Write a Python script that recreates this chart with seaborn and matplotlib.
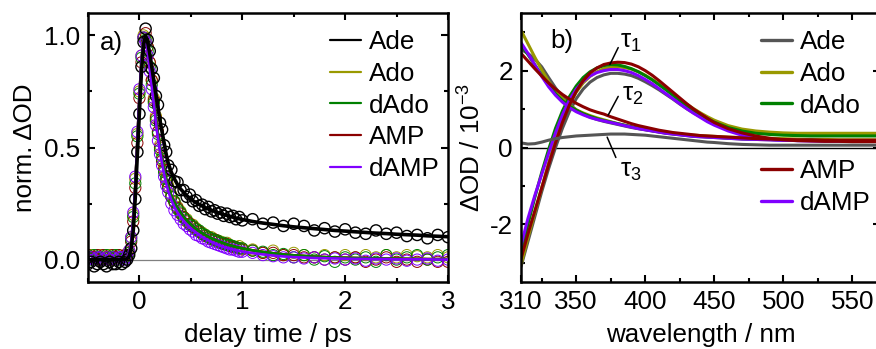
import matplotlib
matplotlib.use("Agg")
import numpy as np
import pandas as pd
import seaborn as sns
import matplotlib.pyplot as plt
from matplotlib.lines import Line2D
from matplotlib.ticker import FixedLocator

# ---------------- data: panel a) ----------------
delay = [-0.50, -0.47, -0.44, -0.41, -0.38, -0.35, -0.32, -0.29, -0.26, -0.23, -0.20, -0.17, -0.14,
         -0.12, -0.10, -0.08, -0.06, -0.04, -0.02, 0.00, 0.02, 0.04, 0.06, 0.08, 0.10, 0.12, 0.14,
         0.16, 0.18, 0.20, 0.22, 0.24, 0.26, 0.28,
         0.31, 0.34, 0.37, 0.40, 0.43, 0.46, 0.49, 0.52, 0.55, 0.58, 0.61, 0.64, 0.67, 0.70, 0.73,
         0.76, 0.79, 0.82, 0.85, 0.88, 0.91, 0.94, 0.97, 1.00,
         1.1, 1.2, 1.3, 1.4, 1.5, 1.6, 1.7, 1.8, 1.9, 2.0, 2.1, 2.2, 2.3, 2.4, 2.5, 2.6, 2.7, 2.8, 2.9, 3.0]

fit_ade = [0] * 13 + [0.005, 0.015, 0.05, 0.13, 0.28, 0.47, 0.66, 0.84, 0.96, 1.00, 0.97, 0.92, 0.86, 0.80,
                      0.74, 0.68, 0.62, 0.57, 0.52, 0.47, 0.43,
                      0.39, 0.36, 0.335, 0.315, 0.30, 0.285, 0.273, 0.263, 0.254, 0.246, 0.239, 0.232,
                      0.226, 0.220, 0.215, 0.210, 0.205, 0.201, 0.197, 0.193, 0.189, 0.185, 0.182, 0.179,
                      0.170, 0.163, 0.157, 0.151, 0.146, 0.142, 0.138, 0.134, 0.130, 0.127, 0.124, 0.121,
                      0.118, 0.116, 0.113, 0.111, 0.109, 0.106, 0.104, 0.102]
fit_dado = [0] * 13 + [0.01, 0.03, 0.08, 0.18, 0.33, 0.53, 0.73, 0.89, 0.98, 0.99, 0.94, 0.87, 0.79, 0.71,
                       0.63, 0.56, 0.50, 0.45, 0.40, 0.36, 0.325,
                       0.285, 0.255, 0.23, 0.21, 0.19, 0.175, 0.16, 0.148, 0.137, 0.127, 0.118, 0.110,
                       0.102, 0.095, 0.089, 0.083, 0.078, 0.073, 0.068, 0.064, 0.060, 0.056, 0.053, 0.050,
                       0.041, 0.034, 0.028, 0.023, 0.019, 0.016, 0.013, 0.011, 0.009, 0.008, 0.007, 0.006,
                       0.005, 0.004, 0.004, 0.003, 0.003, 0.002, 0.002, 0.002]
fit_damp = [0] * 13 + [0.01, 0.03, 0.08, 0.18, 0.33, 0.53, 0.73, 0.89, 0.98, 0.99, 0.93, 0.85, 0.77, 0.69,
                       0.61, 0.54, 0.48, 0.43, 0.38, 0.34, 0.305,
                       0.265, 0.235, 0.21, 0.19, 0.172, 0.157, 0.143, 0.131, 0.120, 0.110, 0.101, 0.093,
                       0.086, 0.079, 0.073, 0.067, 0.062, 0.057, 0.053, 0.049, 0.045, 0.042, 0.039, 0.036,
                       0.029, 0.023, 0.018, 0.014, 0.011, 0.009, 0.007, 0.006, 0.005, 0.004, 0.003, 0.003,
                       0.002, 0.002, 0.001, 0.001, 0.001, 0.001, 0.0, 0.0]

data_ade = [-0.02, -0.01, -0.03, -0.02, -0.01, -0.02, -0.03, -0.01, -0.02, -0.02, -0.01, -0.02, -0.01,
            0.00, 0.02, 0.05, 0.13, 0.27, 0.48, 0.65, 0.86, 0.97, 1.03, 0.98, 0.93, 0.85, 0.81, 0.73,
            0.69, 0.61, 0.58, 0.51, 0.48, 0.42,
            0.40, 0.35, 0.345, 0.31, 0.31, 0.28, 0.29, 0.26, 0.265, 0.24, 0.245, 0.225, 0.235, 0.215,
            0.22, 0.205, 0.21, 0.195, 0.205, 0.19, 0.195, 0.18, 0.19, 0.175,
            0.18, 0.16, 0.165, 0.15, 0.16, 0.15, 0.13, 0.14, 0.125, 0.135, 0.12, 0.115, 0.13, 0.115,
            0.12, 0.105, 0.11, 0.095, 0.11, 0.10]
data_ado = [0.01, 0.02, 0.01, 0.00, 0.02, 0.01, 0.01, 0.02, 0.00, 0.01, 0.02, 0.01, 0.02,
            0.02, 0.04, 0.10, 0.20, 0.36, 0.56, 0.75, 0.91, 1.00, 0.99, 0.95, 0.88, 0.80, 0.72, 0.64,
            0.57, 0.51, 0.46, 0.41, 0.37, 0.33,
            0.29, 0.26, 0.235, 0.215, 0.19, 0.18, 0.16, 0.155, 0.14, 0.125, 0.12, 0.11, 0.10, 0.10,
            0.09, 0.085, 0.08, 0.07, 0.075, 0.065, 0.06, 0.055, 0.06, 0.05,
            0.045, 0.03, 0.04, 0.02, 0.03, 0.02, 0.01, 0.02, 0.01, 0.02, 0.01, 0.02, 0.01, 0.02,
            0.01, 0.02, 0.015, 0.01, 0.02, 0.01]
data_dado = [0.01, 0.00, 0.02, 0.01, 0.01, 0.00, 0.02, 0.01, 0.01, 0.02, 0.00, 0.01, 0.01,
             0.01, 0.03, 0.09, 0.19, 0.34, 0.55, 0.74, 0.90, 0.99, 0.98, 0.93, 0.86, 0.78, 0.70, 0.62,
             0.56, 0.49, 0.45, 0.39, 0.36, 0.32,
             0.28, 0.26, 0.225, 0.21, 0.185, 0.175, 0.155, 0.15, 0.135, 0.13, 0.115, 0.11, 0.10, 0.095,
             0.085, 0.085, 0.075, 0.075, 0.065, 0.065, 0.06, 0.055, 0.05, 0.05,
             0.04, 0.035, 0.02, 0.025, 0.01, 0.02, 0.00, 0.015, -0.01, 0.01, 0.00, 0.01, -0.01, 0.02,
             0.00, 0.01, 0.02, 0.00, 0.01, 0.02]
data_amp = [0.02, 0.01, 0.01, 0.02, 0.00, 0.02, 0.01, 0.00, 0.02, 0.01, 0.02, 0.01, 0.02,
            0.02, 0.03, 0.08, 0.17, 0.32, 0.52, 0.72, 0.88, 0.99, 1.01, 0.95, 0.88, 0.80, 0.71, 0.63,
            0.57, 0.50, 0.44, 0.40, 0.35, 0.32,
            0.28, 0.255, 0.23, 0.205, 0.19, 0.17, 0.16, 0.145, 0.135, 0.125, 0.115, 0.105, 0.10, 0.09,
            0.09, 0.08, 0.075, 0.07, 0.07, 0.06, 0.055, 0.055, 0.05, 0.045,
            0.04, 0.03, 0.03, 0.02, 0.02, 0.01, 0.01, 0.00, 0.01, 0.00, 0.01, -0.01, 0.00, 0.01,
            -0.01, 0.00, -0.01, 0.00, -0.01, -0.01]
data_damp = [0.00, 0.01, 0.00, 0.01, 0.01, 0.00, 0.01, 0.00, 0.01, 0.00, 0.01, 0.01, 0.00,
             0.01, 0.04, 0.10, 0.21, 0.37, 0.57, 0.76, 0.91, 0.99, 0.97, 0.91, 0.84, 0.76, 0.68, 0.60,
             0.53, 0.47, 0.42, 0.37, 0.33, 0.30,
             0.25, 0.22, 0.20, 0.18, 0.16, 0.15, 0.135, 0.125, 0.11, 0.105, 0.095, 0.09, 0.08, 0.075,
             0.07, 0.065, 0.06, 0.055, 0.05, 0.045, 0.045, 0.04, 0.035, 0.035,
             0.03, 0.02, 0.015, 0.01, 0.01, 0.005, 0.01, 0.0, 0.005, 0.0, 0.005, -0.005, 0.005, 0.0,
             0.005, -0.005, 0.0, 0.005, -0.005, 0.0]

# ---------------- data: panel b) ----------------
wavelength = [310, 315, 320, 325, 330, 335, 340, 345, 350, 355, 360, 365, 370, 375, 380, 385, 390,
              395, 400, 405, 410, 415, 420, 425, 430, 435, 440, 445, 450,
              460, 470, 480, 490, 500, 510, 520, 530, 540, 550, 560, 570]

tau1_ade = [-3.1, -2.45, -1.8, -1.15, -0.55, 0.0, 0.5, 0.93, 1.27, 1.52, 1.70, 1.82, 1.89, 1.93, 1.93,
            1.91, 1.87, 1.80, 1.71, 1.61, 1.50, 1.38, 1.26, 1.13, 1.01, 0.90, 0.80, 0.70, 0.62,
            0.50, 0.43, 0.39, 0.36, 0.35, 0.34, 0.34, 0.33, 0.33, 0.33, 0.33, 0.33]
tau1_ado = [-3.05, -2.35, -1.7, -1.05, -0.4, 0.2, 0.7, 1.12, 1.44, 1.68, 1.85, 1.97, 2.05, 2.09, 2.10,
            2.08, 2.04, 1.97, 1.88, 1.77, 1.65, 1.52, 1.39, 1.26, 1.13, 1.01, 0.90, 0.80, 0.71,
            0.57, 0.48, 0.43, 0.40, 0.38, 0.37, 0.37, 0.37, 0.37, 0.37, 0.37, 0.37]
tau1_dado = [-2.75, -2.0, -1.3, -0.65, -0.05, 0.5, 0.95, 1.32, 1.60, 1.82, 1.97, 2.07, 2.13, 2.16, 2.15,
             2.11, 2.05, 1.97, 1.87, 1.76, 1.63, 1.50, 1.36, 1.22, 1.09, 0.96, 0.85, 0.75, 0.66,
             0.52, 0.43, 0.37, 0.34, 0.32, 0.31, 0.30, 0.30, 0.30, 0.30, 0.30, 0.30]
tau1_amp = [-2.9, -2.25, -1.65, -1.05, -0.45, 0.12, 0.65, 1.10, 1.46, 1.74, 1.94, 2.07, 2.16, 2.20, 2.22,
            2.21, 2.17, 2.10, 2.00, 1.88, 1.74, 1.59, 1.44, 1.29, 1.14, 1.00, 0.88, 0.76, 0.65,
            0.49, 0.38, 0.30, 0.24, 0.20, 0.18, 0.17, 0.16, 0.16, 0.15, 0.15, 0.15]
tau1_damp = [-2.55, -1.85, -1.25, -0.7, -0.15, 0.38, 0.85, 1.23, 1.52, 1.72, 1.86, 1.95, 2.00, 2.03, 2.03,
             2.00, 1.95, 1.87, 1.77, 1.66, 1.53, 1.40, 1.27, 1.14, 1.01, 0.89, 0.78, 0.67, 0.58,
             0.43, 0.32, 0.25, 0.21, 0.19, 0.18, 0.17, 0.17, 0.17, 0.17, 0.17, 0.17]

tau2_ade = [2.55, 2.45, 2.3, 2.1, 1.82, 1.55, 1.32, 1.13, 0.98, 0.87, 0.79, 0.73, 0.68, 0.64, 0.60,
            0.56, 0.52, 0.49, 0.46, 0.43, 0.40, 0.37, 0.35, 0.33, 0.31, 0.29, 0.28, 0.27, 0.26,
            0.24, 0.22, 0.21, 0.20, 0.19, 0.18, 0.18, 0.17, 0.17, 0.17, 0.17, 0.17]
tau2_ado = [3.05, 2.7, 2.35, 2.02, 1.72, 1.47, 1.27, 1.10, 0.98, 0.90, 0.83, 0.77, 0.72, 0.67, 0.62,
            0.58, 0.54, 0.50, 0.47, 0.44, 0.41, 0.39, 0.37, 0.35, 0.33, 0.32, 0.31, 0.30, 0.29,
            0.27, 0.26, 0.25, 0.24, 0.23, 0.22, 0.21, 0.21, 0.20, 0.20, 0.20, 0.20]
tau2_dado = [2.68, 2.42, 2.15, 1.88, 1.62, 1.40, 1.22, 1.08, 0.97, 0.88, 0.81, 0.75, 0.70, 0.66, 0.62,
             0.58, 0.54, 0.50, 0.47, 0.44, 0.41, 0.38, 0.36, 0.34, 0.32, 0.30, 0.29, 0.28, 0.27,
             0.25, 0.23, 0.22, 0.21, 0.20, 0.19, 0.19, 0.18, 0.18, 0.18, 0.18, 0.18]
tau2_amp = [2.45, 2.25, 2.05, 1.86, 1.68, 1.52, 1.38, 1.26, 1.15, 1.06, 0.98, 0.92, 0.87, 0.80, 0.74,
            0.68, 0.62, 0.57, 0.53, 0.49, 0.45, 0.42, 0.39, 0.37, 0.35, 0.33, 0.31, 0.30, 0.29,
            0.27, 0.25, 0.23, 0.22, 0.21, 0.20, 0.20, 0.19, 0.19, 0.19, 0.19, 0.19]
tau2_damp = [2.73, 2.45, 2.15, 1.85, 1.58, 1.36, 1.18, 1.04, 0.93, 0.85, 0.78, 0.73, 0.69, 0.65, 0.61,
             0.57, 0.53, 0.49, 0.46, 0.43, 0.40, 0.37, 0.35, 0.33, 0.31, 0.29, 0.28, 0.27, 0.26,
             0.24, 0.22, 0.21, 0.20, 0.19, 0.18, 0.18, 0.17, 0.17, 0.17, 0.17, 0.17]
tau3_ade = [0.12, 0.09, 0.10, 0.14, 0.19, 0.23, 0.26, 0.28, 0.30, 0.31, 0.32, 0.33, 0.34, 0.35, 0.35,
            0.35, 0.34, 0.33, 0.32, 0.30, 0.28, 0.26, 0.24, 0.22, 0.20, 0.18, 0.16, 0.14, 0.13,
            0.10, 0.08, 0.07, 0.06, 0.06, 0.06, 0.06, 0.06, 0.06, 0.06, 0.06, 0.06]

names = ["Ade", "Ado", "dAdo", "AMP", "dAMP"]
col_left = {"Ade": "#000000", "Ado": "#999900", "dAdo": "#008000", "AMP": "#8b0000", "dAMP": "#8000ff"}
col_right = {"Ade": "#555555", "Ado": "#999900", "dAdo": "#008000", "AMP": "#8b0000", "dAMP": "#8000ff"}

# ---------------- style ----------------
sns.set_theme(style="ticks")
FS = 18.7
plt.rcParams.update({
    "font.family": ["Liberation Sans", "DejaVu Sans"],
    "mathtext.fontset": "custom",
    "mathtext.rm": "Liberation Sans",
    "mathtext.it": "Liberation Sans:italic",
    "mathtext.sf": "Liberation Sans",
    "axes.unicode_minus": False,
    "font.size": FS,
    "axes.linewidth": 1.8,
    "axes.edgecolor": "black",
    "text.color": "black",
    "axes.labelcolor": "black",
    "xtick.color": "black",
    "ytick.color": "black",
})

fig = plt.figure(figsize=(8.76, 3.49), dpi=100)
ax1 = fig.add_axes([88 / 876, 67 / 349, 360 / 876, 269 / 349])
ax2 = fig.add_axes([521 / 876, 67 / 349, 359 / 876, 269 / 349])

# ---------------- panel a ----------------
ax1.axhline(0, color="#808080", lw=0.9, zorder=1)
data_map = {"Ado": data_ado, "dAdo": data_dado, "AMP": data_amp, "dAMP": data_damp, "Ade": data_ade}
for nm in ["Ado", "AMP", "dAdo", "dAMP", "Ade"]:
    c = col_left[nm]
    sns.scatterplot(x=delay, y=data_map[nm], ax=ax1, color=c, facecolor="none", edgecolor=c,
                    linewidth=1.0 if nm == "Ade" else 0.7, s=65, marker="o", zorder=2, legend=False)
fit_map = {"Ado": fit_dado, "AMP": fit_dado, "dAdo": fit_dado, "dAMP": fit_damp, "Ade": fit_ade}
for nm in ["Ado", "AMP", "dAdo", "dAMP", "Ade"]:
    sns.lineplot(x=delay, y=fit_map[nm], ax=ax1, color=col_left[nm],
                 lw=2.6 if nm == "Ade" else 1.9, sort=False, estimator=None, zorder=3, legend=False)

ax1.set_xlim(-0.5, 3)
ax1.set_ylim(-0.1, 1.1)
ax1.xaxis.set_major_locator(FixedLocator([0, 1, 2, 3]))
ax1.xaxis.set_minor_locator(FixedLocator([-0.5, 0.5, 1.5, 2.5]))
ax1.yaxis.set_major_locator(FixedLocator([0, 0.5, 1.0]))
ax1.yaxis.set_minor_locator(FixedLocator([0.25, 0.75]))
ax1.set_yticklabels(["0.0", "0.5", "1.0"])
ax1.set_xlabel("delay time / ps", fontsize=FS, labelpad=6)
ax1.set_ylabel("norm. ΔOD", fontsize=FS, labelpad=5)
ax1.text(-0.385, 0.965, "a)", fontsize=FS, ha="left", va="center")

h1 = [Line2D([], [], color=col_left[n], lw=1.6) for n in names]
ax1.legend(h1, names, loc="upper left", bbox_to_anchor=(330 / 876, 1 - 30 / 349),
           bbox_transform=fig.transFigure, frameon=False, borderpad=0, borderaxespad=0,
           handlelength=1.2, handletextpad=0.3, labelspacing=0.3, fontsize=FS)

# ---------------- panel b ----------------
ax2.axhline(0, color="black", lw=1.0, zorder=1)
t1 = {"Ade": tau1_ade, "Ado": tau1_ado, "dAdo": tau1_dado, "AMP": tau1_amp, "dAMP": tau1_damp}
t2 = {"Ade": tau2_ade, "Ado": tau2_ado, "dAdo": tau2_dado, "AMP": tau2_amp, "dAMP": tau2_damp}
for nm in ["Ade", "Ado", "dAdo", "dAMP", "AMP"]:
    c = col_right[nm]
    sns.lineplot(x=wavelength, y=t1[nm], ax=ax2, color=c, lw=2.2, sort=False, estimator=None, legend=False)
    sns.lineplot(x=wavelength, y=t2[nm], ax=ax2, color=c, lw=2.2, sort=False, estimator=None, legend=False)
sns.lineplot(x=wavelength, y=tau3_ade, ax=ax2, color=col_right["Ade"], lw=2.2, sort=False,
             estimator=None, legend=False)

ax2.set_xlim(310, 570)
ax2.set_ylim(-3.5, 3.5)
ax2.xaxis.set_major_locator(FixedLocator([310, 350, 400, 450, 500, 550]))
ax2.xaxis.set_minor_locator(FixedLocator([325, 375, 425, 475, 525]))
ax2.yaxis.set_major_locator(FixedLocator([-2, 0, 2]))
ax2.yaxis.set_minor_locator(FixedLocator([-3, -1, 1, 3]))
ax2.set_xlabel("wavelength / nm", fontsize=FS, labelpad=6)
ax2.set_ylabel("ΔOD / 10$^{-3}$", fontsize=FS, labelpad=3)
ax2.text(331, 2.77, "b)", fontsize=FS, ha="left", va="center")

ax2.text(381.5, 2.74, "τ$_1$", fontsize=FS, ha="left", va="center")
ax2.text(383.5, 1.37, "τ$_2$", fontsize=FS, ha="left", va="center")
ax2.text(381.5, -0.61, "τ$_3$", fontsize=FS, ha="left", va="center")
ax2.plot([380.4, 374.4], [2.6, 2.16], color="black", lw=1.1)
ax2.plot([380.4, 373.1], [1.33, 0.84], color="black", lw=1.1)
ax2.plot([372.4, 378.7], [0.27, -0.26], color="black", lw=1.1)

leg_kw = dict(loc="upper left", bbox_transform=fig.transFigure, frameon=False, borderpad=0,
              borderaxespad=0, handlelength=1.2, handletextpad=0.3, labelspacing=0.3, fontsize=FS)
h2a = [Line2D([], [], color=col_right[n], lw=2.4) for n in names[:3]]
leg_a = ax2.legend(h2a, names[:3], bbox_to_anchor=(761 / 876, 1 - 30 / 349), **leg_kw)
ax2.add_artist(leg_a)
h2b = [Line2D([], [], color=col_right[n], lw=2.4) for n in names[3:]]
ax2.legend(h2b, names[3:], bbox_to_anchor=(761 / 876, 1 - 159 / 349), **leg_kw)

for ax in (ax1, ax2):
    ax.tick_params(which="both", direction="in", top=True, right=True, width=1.5,
                   labelsize=FS, color="black")
    ax.tick_params(which="major", length=5, pad=6)
    ax.tick_params(which="minor", length=3)
    for s in ax.spines.values():
        s.set_linewidth(1.8)
        s.set_color("black")

fig.savefig("out.png", dpi=100)
